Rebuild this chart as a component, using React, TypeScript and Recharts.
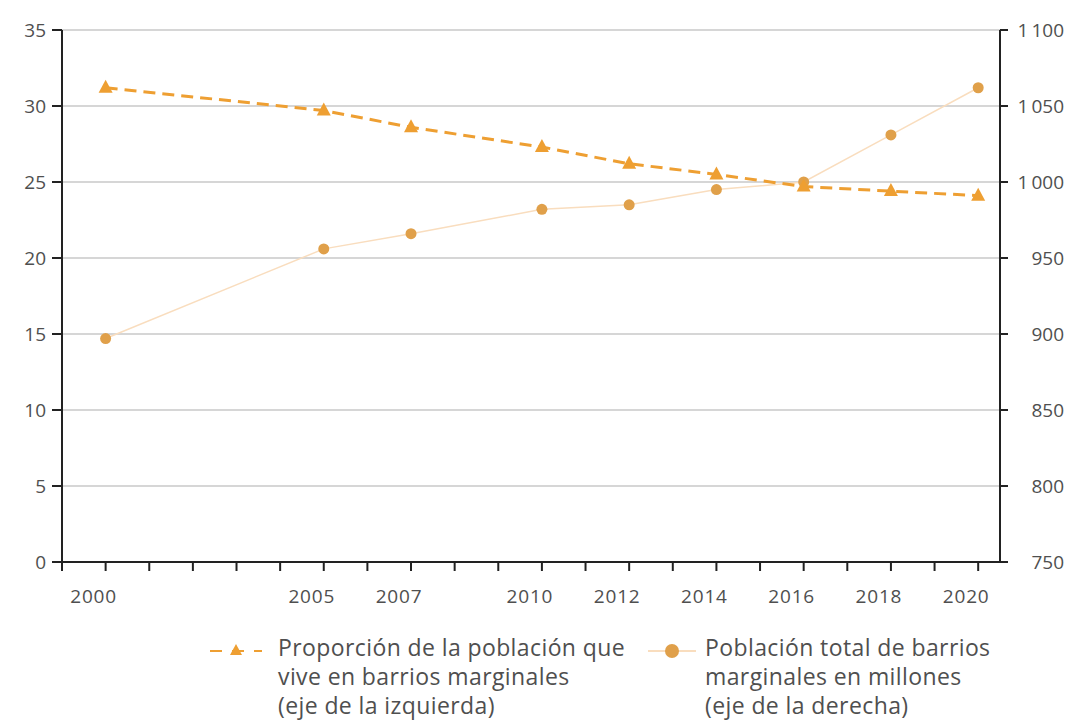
import React from 'react';
import {
  LineChart,
  Line,
  XAxis,
  YAxis,
  CartesianGrid,
  Legend,
} from 'recharts';

const years = [2000, 2005, 2007, 2010, 2012, 2014, 2016, 2018, 2020];
const shareValues = [31.2, 29.7, 28.6, 27.3, 26.2, 25.5, 24.7, 24.4, 24.1];
const populationValues = [897, 956, 966, 982, 985, 995, 1000, 1031, 1062];

const yearTicks = [
  1999, 2000, 2001, 2002, 2003, 2004, 2005, 2006, 2007, 2008, 2009, 2010,
  2011, 2012, 2013, 2014, 2015, 2016, 2017, 2018, 2019, 2020,
];
const labelYears = [2000, 2005, 2007, 2010, 2012, 2014, 2016, 2018, 2020];
const leftTicks = [0, 5, 10, 15, 20, 25, 30, 35];
const rightTicks = [750, 800, 850, 900, 950, 1000, 1050, 1100];

const shareLabel = ['Proporción de la población que', 'vive en barrios marginales', '(eje de la izquierda)'];
const populationLabel = ['Población total de barrios', 'marginales en millones', '(eje de la derecha)'];

const data = years.map((year, i) => ({
  year,
  share: shareValues[i],
  population: populationValues[i],
}));

const FONT = '"Open Sans", sans-serif';
const TEXT = '#4f4f4f';
const ORANGE = '#EE9F32';
const DOT = '#E0A04A';
const FAINT = '#F9DDBE';

const fmtThousands = (v: number) =>
  v >= 1000 ? `${Math.floor(v / 1000)}\u2009${String(v % 1000).padStart(3, '0')}` : String(v);

const XTick = (props: any) => {
  const { x, y, payload } = props;
  if (!labelYears.includes(payload.value)) return <g />;
  return (
    <text x={x - 12} y={y + 30} textAnchor="middle" fill={TEXT} fontSize={19} fontFamily={FONT} letterSpacing={0.8}>
      {payload.value}
    </text>
  );
};

const LeftTick = (props: any) => {
  const { x, y, payload } = props;
  return (
    <text x={x - 4} y={y + 7} textAnchor="end" fill={TEXT} fontSize={19} fontFamily={FONT}>
      {payload.value}
    </text>
  );
};

const RightTick = (props: any) => {
  const { y, payload } = props;
  return (
    <text x={1064} y={y + 7} textAnchor="end" fill={TEXT} fontSize={19} fontFamily={FONT}>
      {fmtThousands(payload.value)}
    </text>
  );
};

const triangleDot = (props: any) => {
  const { cx, cy, index } = props;
  if (cx == null || cy == null) return <g key={index} />;
  return (
    <polygon
      key={index}
      points={`${cx},${cy - 8} ${cx - 7},${cy + 5} ${cx + 7},${cy + 5}`}
      fill={ORANGE}
    />
  );
};

const renderLegend = () => (
  <div style={{ position: 'relative', height: 92, fontFamily: FONT, color: TEXT, fontSize: 23 }}>
    <svg style={{ position: 'absolute', left: 210, top: 10 }} width={52} height={24}>
      <line x1={0} y1={12} x2={52} y2={12} stroke={ORANGE} strokeWidth={2} strokeDasharray="12 10" />
      <polygon points="26,5 20,16 32,16" fill={ORANGE} />
    </svg>
    <div style={{ position: 'absolute', left: 278, top: 4, lineHeight: '29px', letterSpacing: 0.4 }}>
      {shareLabel.map((l) => (
        <div key={l}>{l}</div>
      ))}
    </div>
    <svg style={{ position: 'absolute', left: 648, top: 10 }} width={48} height={24}>
      <line x1={0} y1={12} x2={48} y2={12} stroke={FAINT} strokeWidth={2} />
      <circle cx={24} cy={12} r={7} fill={DOT} />
    </svg>
    <div style={{ position: 'absolute', left: 705, top: 4, lineHeight: '29px', letterSpacing: 0.4 }}>
      {populationLabel.map((l) => (
        <div key={l}>{l}</div>
      ))}
    </div>
  </div>
);

export default function App() {
  return (
    <div style={{ position: 'absolute', left: 0, top: 0, background: '#fff' }}>
      <LineChart
        width={1083}
        height={721}
        data={data}
        margin={{ top: 30, right: 0, bottom: 0, left: 0 }}
      >
        <CartesianGrid yAxisId="left" vertical={false} stroke="#c8c8c8" strokeWidth={1.5} />
        <XAxis
          dataKey="year"
          type="number"
          domain={[1999, 2020.5]}
          ticks={yearTicks}
          interval={0}
          tick={<XTick />}
          tickSize={9}
          height={67}
          axisLine={{ stroke: '#222', strokeWidth: 2 }}
          tickLine={{ stroke: '#222', strokeWidth: 2 }}
        />
        <YAxis
          yAxisId="left"
          domain={[0, 35]}
          ticks={leftTicks}
          interval={0}
          width={62}
          tickSize={10}
          tick={<LeftTick />}
          axisLine={{ stroke: '#222', strokeWidth: 2 }}
          tickLine={{ stroke: '#222', strokeWidth: 2 }}
        />
        <YAxis
          yAxisId="right"
          orientation="right"
          domain={[750, 1100]}
          ticks={rightTicks}
          interval={0}
          width={83}
          tickSize={8}
          tick={<RightTick />}
          axisLine={{ stroke: '#222', strokeWidth: 2 }}
          tickLine={{ stroke: '#222', strokeWidth: 2 }}
        />
        <Legend verticalAlign="bottom" content={renderLegend} wrapperStyle={{ left: 0, width: 1083 }} />
        <Line
          yAxisId="right"
          dataKey="population"
          stroke={FAINT}
          strokeWidth={1.5}
          dot={{ r: 5.5, fill: DOT, stroke: 'none' }}
          activeDot={false}
          isAnimationActive={false}
        />
        <Line
          yAxisId="left"
          dataKey="share"
          stroke={ORANGE}
          strokeWidth={3}
          strokeDasharray="12 7"
          dot={triangleDot}
          activeDot={false}
          isAnimationActive={false}
        />
      </LineChart>
    </div>
  );
}
